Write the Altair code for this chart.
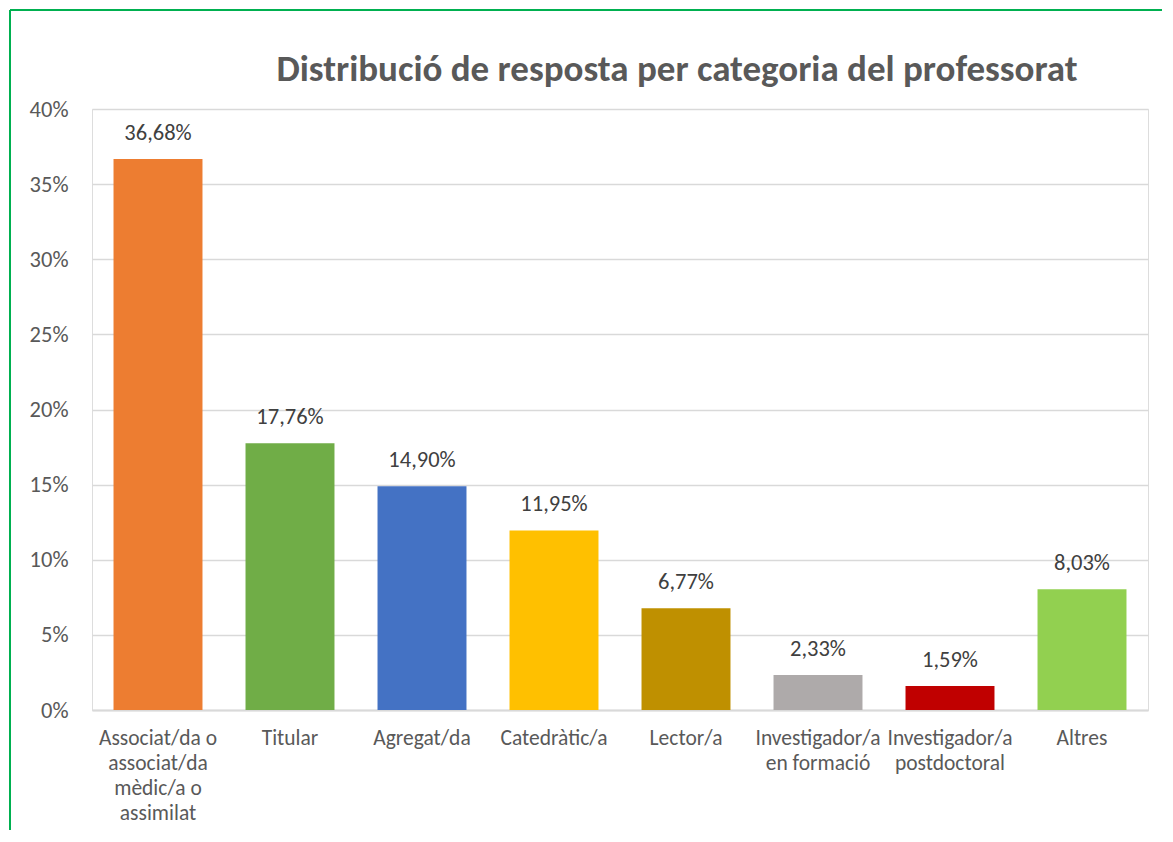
import json
import altair as alt
import pandas as pd

categories = [
    "Associat/da o associat/da mèdic/a o assimilat",
    "Titular",
    "Agregat/da",
    "Catedràtic/a",
    "Lector/a",
    "Investigador/a en formació",
    "Investigador/a postdoctoral",
    "Altres",
]
label_lines = [
    ["Associat/da o", "associat/da", "mèdic/a o", "assimilat"],
    ["Titular"],
    ["Agregat/da"],
    ["Catedràtic/a"],
    ["Lector/a"],
    ["Investigador/a", "en formació"],
    ["Investigador/a", "postdoctoral"],
    ["Altres"],
]
values = [0.3668, 0.1776, 0.1490, 0.1195, 0.0677, 0.0233, 0.0159, 0.0803]
colors = ["#ED7D31", "#70AD47", "#4472C4", "#FFC000", "#BF9000", "#AEAAAA", "#C00000", "#92D050"]
y_ticks = [0, 0.05, 0.10, 0.15, 0.20, 0.25, 0.30, 0.35, 0.40]
title_text = "Distribució de resposta per categoria del professorat"

df = pd.DataFrame({"categoria": categories, "valor": values})
label_map = json.dumps(dict(zip(categories, label_lines)), ensure_ascii=False)

FONT = "Calibri, Carlito, Lato, Open Sans, sans-serif"

base = alt.Chart(df)

xenc = alt.X(
    "categoria:N",
    sort=categories,
    scale=alt.Scale(paddingInner=0.326, paddingOuter=0.163),
    axis=alt.Axis(
        title=None,
        labelAngle=0,
        labelExpr=f"{label_map}[datum.label]",
        labelFontSize=21.5,
        labelColor="#595959",
        labelFont=FONT,
        labelLineHeight=25.3,
        labelPadding=17,
        labelBaseline="top",
        ticks=False,
        domain=True,
        domainColor="#d9d9d9",
        domainWidth=2,
        labelLimit=220,
    ),
)

bars = base.mark_bar().encode(
    x=xenc,
    y=alt.Y(
        "valor:Q",
        scale=alt.Scale(domain=[0, 0.4], nice=False),
        axis=alt.Axis(
            title=None,
            values=y_ticks,
            format=".0%",
            labelFontSize=22.5,
            labelColor="#595959",
            labelFont=FONT,
            labelPadding=24,
            ticks=False,
            domain=False,
            gridColor="#d9d9d9",
            gridWidth=1.5,
        ),
    ),
    color=alt.Color("categoria:N", scale=alt.Scale(domain=categories, range=colors), legend=None),
)

text = base.transform_calculate(
    etiqueta="replace(format(datum.valor, '.2%'), '.', ',')"
).mark_text(
    baseline="bottom", dy=-14, fontSize=22.5, color="#404040", font=FONT
).encode(
    x=alt.X("categoria:N", sort=categories),
    y="valor:Q",
    text="etiqueta:N",
)

title = alt.Chart(pd.DataFrame({"t": [title_text]})).mark_text(
    fontSize=37, font=FONT, fontWeight="bold", color="#595959", align="center", baseline="alphabetic"
).encode(x=alt.value(585), y=alt.value(-28), text="t:N")

border_top = base.mark_rule(color="#00B050", strokeWidth=2, clip=False).encode(
    x=alt.value(-82), x2=alt.value(1070), y=alt.value(-99)
)
border_left = base.mark_rule(color="#00B050", strokeWidth=2, clip=False).encode(
    x=alt.value(-82), y=alt.value(-99), y2=alt.value(730)
)

chart = (
    alt.layer(bars, text, title, border_top, border_left)
    .properties(
        width=1056,
        height=601,
        autosize=alt.AutoSizeParams(type="none"),
        padding={"left": 84, "top": 101, "right": 14, "bottom": 120},
    )
    .configure_view(stroke="transparent", strokeWidth=0)
    .configure(background="white")
)

chart.save("out.html", embed_options={"renderer": "svg", "actions": False})
